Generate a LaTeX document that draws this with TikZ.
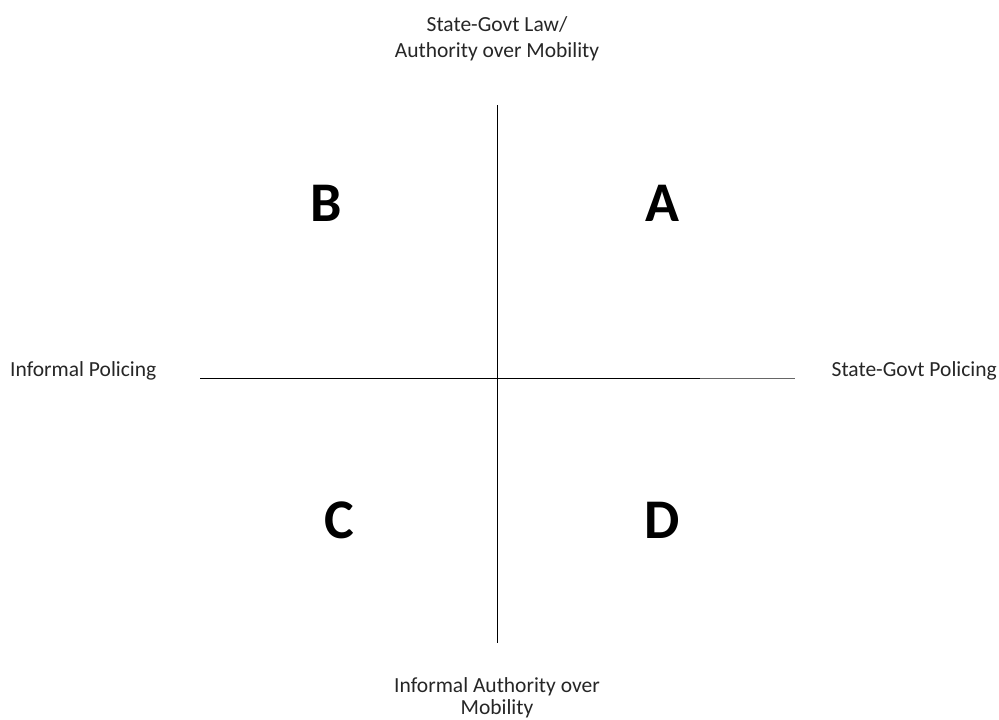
\documentclass[tikz,border=0pt]{standalone}
\usepackage{fontspec}
\setmainfont{Carlito}
\begin{document}
\begin{tikzpicture}[x=1pt,y=-1pt,
  lbl/.style={font=\fontsize{21.5}{26}\selectfont, align=center, text=black!85, inner sep=0pt},
  quad/.style={font=\fontsize{56}{60}\selectfont\bfseries, inner sep=0pt}]
\useasboundingbox (0,0) rectangle (999,720);
\coordinate (vt) at (497,105);
\coordinate (vb) at (497,643);
\coordinate (hl) at (200,378);
\coordinate (hm) at (700,378);
\coordinate (hr) at (795,378);
\draw[line width=1pt] (vt) -- (vb);
\draw[line width=1pt] (hl) -- (hm);
\draw[line width=1pt, black!60] (hm) -- (hr);
\node[lbl] (top) at (497,39) {State-Govt Law/\\Authority over Mobility};
\node[lbl, font=\fontsize{21.5}{22}\selectfont, anchor=base] (bot) at (497,714) {Informal Authority over\\Mobility};
\node[lbl, anchor=west] (left) at (10,371) {Informal Policing};
\node[lbl, anchor=east] (right) at (997,371) {State-Govt Policing};
\node[quad] (B) at (326,203) {B};
\node[quad] (A) at (662,203) {A};
\node[quad] (C) at (339,520) {C};
\node[quad] (D) at (662,520) {D};
\end{tikzpicture}
\end{document}
